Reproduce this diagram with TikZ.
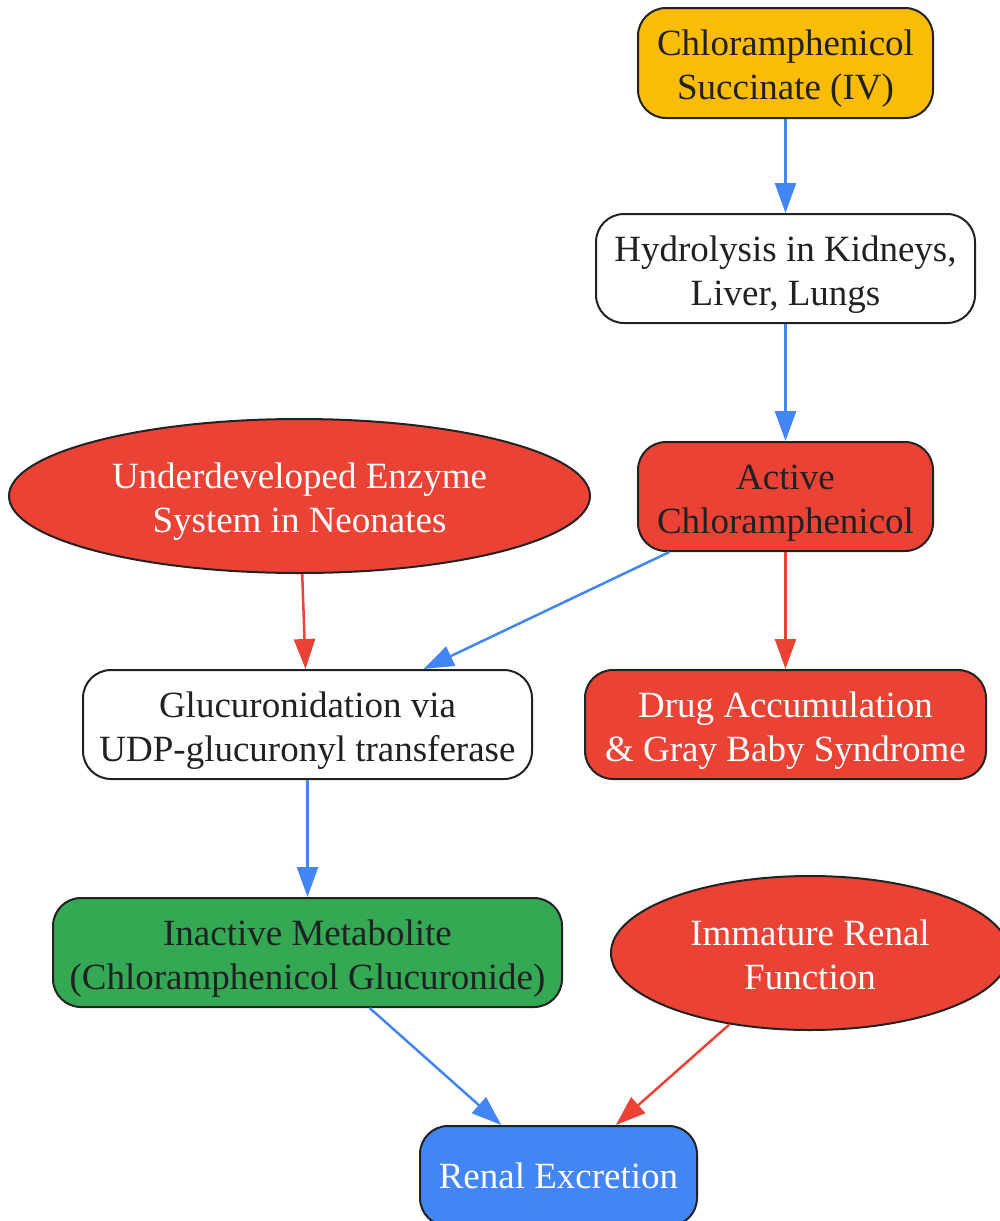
\documentclass[tikz,border=0pt]{standalone}
\usepackage{fontspec}
\setmainfont{Liberation Serif}
\usetikzlibrary{shapes.geometric,arrows.meta}
\definecolor{gyellow}{HTML}{FBBC05}
\definecolor{gred}{HTML}{EA4335}
\definecolor{ggreen}{HTML}{34A853}
\definecolor{gblue}{HTML}{4285F4}
\definecolor{ink}{HTML}{202124}
\definecolor{bord}{HTML}{222222}
\newcommand{\topstrut}{\rule{0pt}{37pt}}
\newcommand{\lowstrut}{\rule{0pt}{29pt}}
\tikzset{
  base/.style={draw=bord, line width=2pt, align=center, inner sep=0pt,
    font=\fontsize{37}{44}\selectfont},
  rbox/.style={base, rectangle, rounded corners=28pt},
  oval/.style={base, ellipse},
  edge/.style={line width=2.5pt, -{Triangle[length=30pt,width=21pt]}},
  bl/.style={edge, draw=gblue, fill=gblue},
  rd/.style={edge, draw=gred, fill=gred},
}
\begin{document}
\begin{tikzpicture}[x=1pt,y=-1pt]
\useasboundingbox (0,0) rectangle (1000,1221);
\node[rbox, fill=gyellow, text=ink, minimum width=295pt, minimum height=110pt] (succ) at (785.5,63) {\topstrut Chloramphenicol\\Succinate (IV)};
\node[rbox, fill=white, text=ink, minimum width=379pt, minimum height=109pt] (hyd) at (785.5,268.5) {\topstrut Hydrolysis in Kidneys,\\Liver, Lungs};
\node[rbox, fill=gred, text=ink, minimum width=295pt, minimum height=109pt] (act) at (785.5,496.5) {\topstrut Active\\Chloramphenicol};
\node[oval, fill=gred, text=white, minimum width=581pt, minimum height=154pt] (under) at (299.5,496) {\topstrut Underdeveloped Enzyme\\System in Neonates};
\node[rbox, fill=white, text=ink, minimum width=449pt, minimum height=109pt] (gluc) at (307.5,724.5) {\topstrut Glucuronidation via\\UDP-glucuronyl transferase};
\node[rbox, fill=gred, text=white, minimum width=401pt, minimum height=109pt] (drug) at (785.5,724.5) {\topstrut Drug Accumulation\\\& Gray Baby Syndrome};
\node[rbox, fill=ggreen, text=ink, minimum width=509pt, minimum height=109pt] (inact) at (307.5,952.5) {\topstrut Inactive Metabolite\\(Chloramphenicol Glucuronide)};
\node[oval, fill=gred, text=white, minimum width=398pt, minimum height=154pt] (renalf) at (810,953) {\lowstrut Immature Renal\\Function};
\node[rbox, fill=gblue, text=white, minimum width=277pt, minimum height=100pt] (excr) at (558.5,1176) {Renal Excretion};
\draw[bl] (succ) -- (hyd);
\draw[bl] (hyd) -- (act);
\draw[bl] (act) -- (gluc);
\draw[rd] (act) -- (drug);
\draw[rd] (under) -- (gluc);
\draw[bl] (gluc) -- (inact);
\draw[bl] (inact) -- (excr);
\draw[rd] (renalf) -- (excr);
\end{tikzpicture}
\end{document}
